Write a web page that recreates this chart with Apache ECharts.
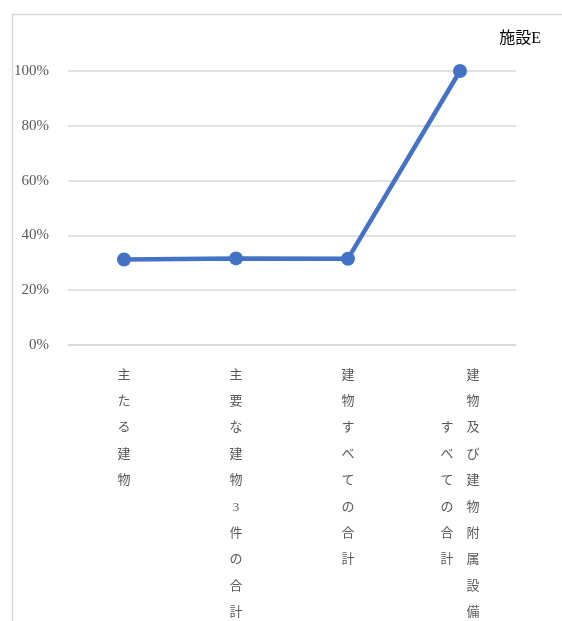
<!DOCTYPE html>
<html>
<head>
<meta charset="utf-8">
<script src="https://cdn.jsdelivr.net/npm/echarts@6/dist/echarts.min.js"></script>
<style>
  html, body { margin: 0; padding: 0; background: #fff; }
  #chart { width: 562px; height: 621px; }
</style>
</head>
<body>
<div id="chart"></div>
<script>
// 施設E: share of value by building scope
const title = '施設E';
const categories = [
  '主たる建物',
  '主要な建物3件の合計',
  '建物すべての合計',
  '建物及び建物附属設備すべての合計'
];
const values = [0.312, 0.316, 0.315, 1.0];
const yTicks = [0, 0.2, 0.4, 0.6, 0.8, 1.0];

const SERIF = '"Liberation Serif", "Noto Sans CJK JP", serif';
const COL_LEN = 10; // characters per vertical column

// Lay a category name out as vertical text: columns of COL_LEN characters,
// read right-to-left, shorter columns centred against the tallest one.
function verticalLabel(name) {
  const chars = Array.from(name);
  const cols = [];
  for (let i = 0; i < chars.length; i += COL_LEN) cols.push(chars.slice(i, i + COL_LEN));
  const rows = Math.max(...cols.map(c => c.length));
  const padded = cols.map(c => {
    const off = Math.floor((rows - c.length) / 2);
    const arr = new Array(rows).fill('\u3000');
    c.forEach((ch, k) => { arr[off + k] = ch; });
    return arr;
  });
  const lines = [];
  for (let r = 0; r < rows; r++) {
    const parts = [];
    for (let c = padded.length - 1; c >= 0; c--) parts.push(padded[c][r]);
    lines.push(parts.join('\u3000'));
  }
  return lines.join('\n');
}

const chart = echarts.init(document.getElementById('chart'), null, { renderer: 'canvas' });
chart.setOption({
  animation: false,
  backgroundColor: '#ffffff',
  graphic: [{
    type: 'rect',
    left: 10, top: 12,
    shape: { width: 600, height: 660 },
    style: { fill: 'none', stroke: '#d9d9d9', lineWidth: 1.5 },
    silent: true
  }],
  title: {
    text: title,
    right: 16, top: 26,
    textStyle: { fontFamily: SERIF, fontSize: 16, fontWeight: 'normal', color: '#000000' }
  },
  grid: { left: 68, right: 46, top: 71, bottom: 276, containLabel: false, outerBoundsMode: 'none' },
  xAxis: {
    type: 'category',
    data: categories,
    boundaryGap: true,
    axisLine: { show: true, lineStyle: { color: '#d9d9d9', width: 1.5 } },
    axisTick: { show: false },
    axisLabel: {
      interval: 0,
      margin: 17,
      fontFamily: SERIF,
      fontSize: 13,
      lineHeight: 26.4,
      color: '#595959',
      align: 'center',
      verticalAlign: 'top',
      hideOverlap: false,
      formatter: verticalLabel
    }
  },
  yAxis: {
    type: 'value',
    min: 0, max: 1, interval: 0.2,
    axisLine: { show: false },
    axisTick: { show: false },
    splitLine: { lineStyle: { color: '#d9d9d9', width: 1.5 } },
    axisLabel: {
      margin: 19,
      fontFamily: SERIF,
      fontSize: 15,
      color: '#595959',
      formatter: v => {
        const t = yTicks.find(x => Math.abs(x - v) < 1e-9);
        return Math.round((t !== undefined ? t : v) * 100) + '%';
      }
    }
  },
  series: [{
    type: 'line',
    data: values,
    symbol: 'circle',
    symbolSize: 14,
    lineStyle: { color: '#4472c4', width: 4.5 },
    itemStyle: { color: '#4472c4' }
  }]
});
</script>
</body>
</html>
